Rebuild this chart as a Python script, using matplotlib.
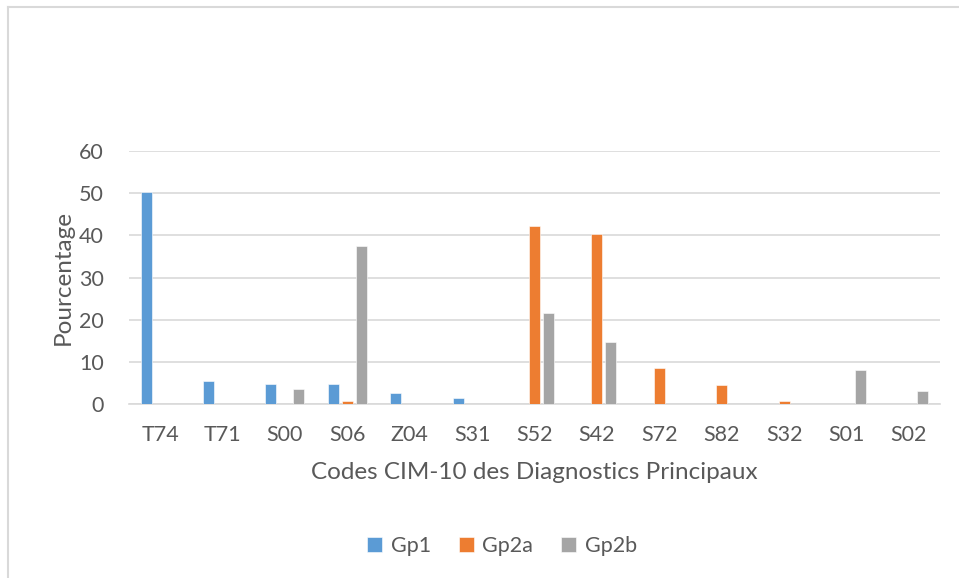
import matplotlib
matplotlib.use("Agg")
import matplotlib.pyplot as plt
import numpy as np
from matplotlib.lines import Line2D

plt.rcParams['font.family'] = ['Lato', 'DejaVu Sans']

categories = ["T74", "T71", "S00", "S06", "Z04", "S31", "S52", "S42", "S72", "S82", "S32", "S01", "S02"]
gp1 = [50.3, 5.5, 4.7, 4.7, 2.5, 1.5, 0, 0, 0, 0, 0, 0, 0]
gp2a = [0, 0, 0, 0.6, 0, 0, 42.1, 40.2, 8.6, 4.5, 0.7, 0, 0]
gp2b = [0, 0, 3.5, 37.5, 0, 0, 21.6, 14.6, 0, 0, 0, 8.1, 3.2]
series_names = ["Gp1", "Gp2a", "Gp2b"]
colors = ["#5B9BD5", "#ED7D31", "#A5A5A5"]

fig = plt.figure(figsize=(9.59, 5.78), dpi=100)
ax = fig.add_axes([129/959, 1-404/578, (940-129)/959, (404-151)/578])

x = np.arange(len(categories))
w = 0.176
step = 0.224
for i, (vals, name, c) in enumerate(zip([gp1, gp2a, gp2b], series_names, colors)):
    ax.bar(x + (i-1)*step, vals, width=w, color=c, label=name, edgecolor='white', linewidth=0.4, zorder=3)

ax.set_xlim(-0.5, len(categories)-0.5)
ax.set_ylim(0, 60)
ax.set_yticks(range(0, 61, 10))
ax.set_xticks(x)
ax.set_xticklabels(categories)
ax.grid(axis='y', color='#d9d9d9', linewidth=1.2, zorder=0)
for s in ['top', 'right', 'left']:
    ax.spines[s].set_visible(False)
ax.spines['bottom'].set_color('#d9d9d9')
ax.spines['bottom'].set_linewidth(1.2)
ax.tick_params(axis='both', length=0, labelsize=15.5, labelcolor='#595959')
ax.tick_params(axis='x', pad=15)
ax.tick_params(axis='y', pad=18)
ax.set_ylabel("Pourcentage", fontsize=17.5, color='#595959', labelpad=4)
ax.set_xlabel("Codes CIM-10 des Diagnostics Principaux", fontsize=17.5, color='#595959', labelpad=12)

ax.legend(loc='center', bbox_to_anchor=(502/959, 1-546/578), bbox_transform=fig.transFigure,
          ncol=3, frameon=False, fontsize=15.5, labelcolor='#595959', handlelength=0.7,
          handleheight=0.7, handletextpad=0.4, columnspacing=1.3)

# chart border (light gray)
fig.add_artist(Line2D([8/959, 1], [1-7/578, 1-7/578], transform=fig.transFigure, color='#d9d9d9', linewidth=1.5))
fig.add_artist(Line2D([8/959, 8/959], [0, 1-7/578], transform=fig.transFigure, color='#d9d9d9', linewidth=1.5))

fig.savefig("out.png", dpi=100)
